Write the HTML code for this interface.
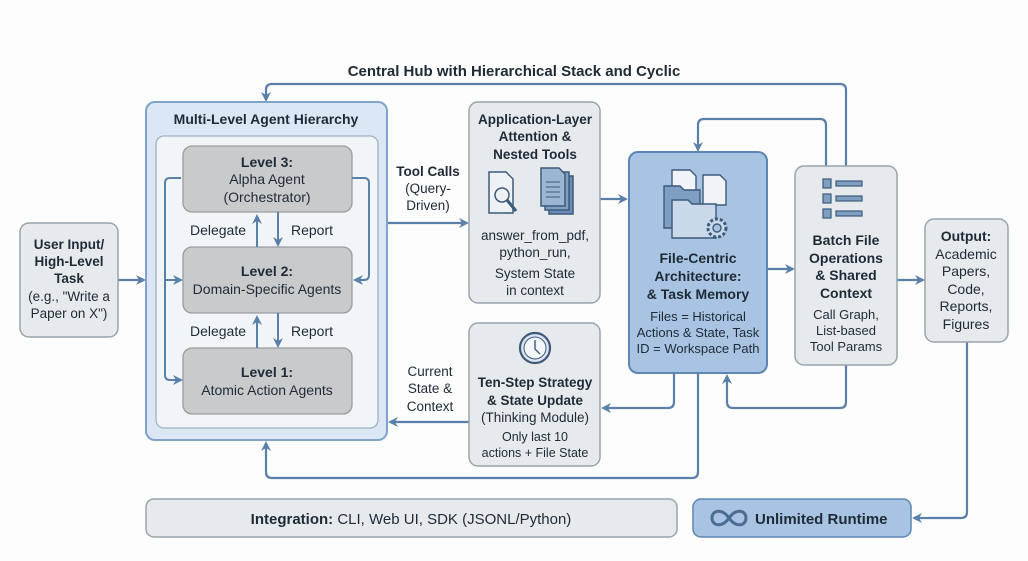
<!DOCTYPE html>
<html><head><meta charset="utf-8"><style>
html,body{margin:0;padding:0;background:#fdfdfd;}
svg{display:block;font-family:"Liberation Sans",Arial,sans-serif;}
.b{font-weight:bold;}
</style></head><body>
<svg width="1028" height="561" viewBox="0 0 1028 561" xmlns="http://www.w3.org/2000/svg">
<defs>
<marker id="a" markerWidth="10" markerHeight="10" refX="8" refY="5" orient="auto" markerUnits="userSpaceOnUse"><path d="M0,0 L10,5 L0,10 L3,5 z" fill="#5a7fa8"/></marker>
</defs>
<rect width="1028" height="561" fill="#fdfdfd"/>
<g fill="none" stroke="#5a7fa8" stroke-width="2.2">
<!-- top cycle -->
<path d="M846,166 V90 Q846,84 840,84 H272 Q266,84 266,90 V100" marker-end="url(#a)"/>
<!-- loop above file-centric -->
<path d="M826,166 V125 Q826,119 820,119 H704 Q698,119 698,125 V150" marker-end="url(#a)"/>
<!-- batch bottom feedback -->
<path d="M846,365 V402 Q846,408 840,408 H733 Q727,408 727,402 V376" marker-end="url(#a)"/>
<!-- file to ten-step -->
<path d="M674,373 V402 Q674,408 668,408 H603" marker-end="url(#a)"/>
<!-- bottom long line -->
<path d="M698,373 V472 Q698,478 692,478 H272 Q266,478 266,472 V443" marker-end="url(#a)"/>
<!-- output to runtime -->
<path d="M967,342 V512 Q967,518 961,518 H914" marker-end="url(#a)"/>
<path d="M600,199 H626" marker-end="url(#a)"/>
<path d="M767,269 H793" marker-end="url(#a)"/>
<path d="M897,280 H923" marker-end="url(#a)"/>
<path d="M387,223 H467" marker-end="url(#a)"/>
<path d="M469,422 H390" marker-end="url(#a)"/>
<path d="M118,280 H144" marker-end="url(#a)"/>
</g>
<!-- title -->
<text x="514" y="76" text-anchor="middle" class="b" font-size="15" fill="#1e2a36">Central Hub with Hierarchical Stack and Cyclic</text>
<!-- user input -->
<rect x="20" y="223" width="98" height="114" rx="9" fill="#e7eaed" stroke="#9aa3ad" stroke-width="1.5"/>
<g font-size="13.5" text-anchor="middle" fill="#1e2a36">
<text x="69" y="249" class="b">User Input/</text>
<text x="69" y="266" class="b">High-Level</text>
<text x="69" y="283" class="b">Task</text>
<text x="69" y="301">(e.g., "Write a</text>
<text x="69" y="318">Paper on X")</text>
</g>
<!-- hierarchy -->
<rect x="146" y="102" width="241" height="338" rx="9" fill="#dbe7f4" stroke="#7fa3c9" stroke-width="2"/>
<text x="266" y="124" text-anchor="middle" class="b" font-size="14" fill="#1e2a36">Multi-Level Agent Hierarchy</text>
<rect x="156" y="136" width="222" height="292" rx="8" fill="#f2f5f8" stroke="#9fb0c2" stroke-width="1.3"/>
<g fill="#c9cacb" stroke="#9a9c9f" stroke-width="1.3">
<rect x="183" y="146" width="169" height="66" rx="9"/>
<rect x="183" y="247" width="169" height="66" rx="9"/>
<rect x="183" y="348" width="169" height="66" rx="9"/>
</g>
<g font-size="14" text-anchor="middle" fill="#1e2a36">
<text x="267" y="167" class="b">Level 3:</text>
<text x="267" y="184">Alpha Agent</text>
<text x="267" y="202">(Orchestrator)</text>
<text x="267" y="276" class="b">Level 2:</text>
<text x="267" y="294">Domain-Specific Agents</text>
<text x="267" y="377" class="b">Level 1:</text>
<text x="267" y="395">Atomic Action Agents</text>
<text x="218" y="235">Delegate</text>
<text x="312" y="235">Report</text>
<text x="218" y="336">Delegate</text>
<text x="312" y="336">Report</text>
</g>
<g fill="none" stroke="#5a7fa8" stroke-width="2">
<path d="M257,247 V216" marker-end="url(#a)"/>
<path d="M278,212 V245" marker-end="url(#a)"/>
<path d="M257,348 V317" marker-end="url(#a)"/>
<path d="M278,313 V346" marker-end="url(#a)"/>
<path d="M181,178 H170 Q165,178 165,183 V375 Q165,380 170,380 H181" marker-end="url(#a)"/>
<path d="M165,280 H181" marker-end="url(#a)"/>
<path d="M352,178 H364 Q369,178 369,183 V275 Q369,280 364,280 H355" marker-end="url(#a)"/>
</g>
<!-- connector labels -->
<g font-size="13.5" text-anchor="middle" fill="#1e2a36">
<text x="428" y="176" class="b">Tool Calls</text>
<text x="428" y="193">(Query-</text>
<text x="428" y="210">Driven)</text>
<text x="430" y="376">Current</text>
<text x="430" y="393">State &amp;</text>
<text x="430" y="411">Context</text>
</g>
<!-- app layer -->
<rect x="469" y="102" width="131" height="201" rx="9" fill="#e7eaed" stroke="#9aa3ad" stroke-width="1.5"/>
<g font-size="13.5" text-anchor="middle" fill="#1e2a36">
<text x="535" y="124" class="b">Application-Layer</text>
<text x="535" y="141" class="b">Attention &amp;</text>
<text x="535" y="159" class="b">Nested Tools</text>
<text x="535" y="240">answer_from_pdf,</text>
<text x="535" y="257">python_run,</text>
<text x="535" y="278">System State</text>
<text x="535" y="295">in context</text>
</g>
<g stroke="#3d5a7a" stroke-width="1.5">
<path d="M489,172 H506 L513,179 V213 H489 Z" fill="#eef2f6"/>
<circle cx="502" cy="195" r="7" fill="#eef2f6"/>
<path d="M507,200 L516,211" stroke-width="3"/>
<rect x="549" y="176" width="24" height="38" fill="#6b8db3"/>
<rect x="545" y="172" width="24" height="38" fill="#7f9fc2"/>
<path d="M541,168 H559 L565,174 V206 H541 Z" fill="#9bb6d3"/>
<path d="M546,182 H560 M546,187 H560 M546,192 H560 M546,197 H560" stroke-width="1"/>
</g>
<!-- ten-step -->
<rect x="469" y="323" width="131" height="143" rx="9" fill="#e7eaed" stroke="#9aa3ad" stroke-width="1.5"/>
<circle cx="535" cy="348" r="15" fill="#dde6f0" stroke="#3d5a7a" stroke-width="2.2"/>
<circle cx="535" cy="348" r="11" fill="#f4f7fa" stroke="#3d5a7a" stroke-width="1"/>
<path d="M535,340 V349 L540,354" fill="none" stroke="#3d5a7a" stroke-width="1.4"/>
<g font-size="13.5" text-anchor="middle" fill="#1e2a36">
<text x="535" y="387" class="b">Ten-Step Strategy</text>
<text x="535" y="405" class="b">&amp; State Update</text>
<text x="535" y="422">(Thinking Module)</text>
<text x="535" y="441" font-size="12.5">Only last 10</text>
<text x="535" y="457" font-size="12.5">actions + File State</text>
</g>
<!-- file-centric -->
<rect x="629" y="152" width="138" height="221" rx="9" fill="#a9c4e2" stroke="#5b86b5" stroke-width="2"/>
<g stroke="#3d5a7a" stroke-width="1.4">
<path d="M672,170 H690 L696,176 V200 H672 Z" fill="#f0f4f8"/>
<path d="M703,175 H720 L726,181 V205 H703 Z" fill="#f0f4f8"/>
<path d="M664,186 H680 L684,190 H700 V228 H664 Z" fill="#7f9fc2"/>
<path d="M672,200 H688 L692,204 H716 V238 H672 Z" fill="#c9d9ea"/>
<circle cx="717" cy="228" r="9" fill="#c9d9ea" stroke-dasharray="3 2" stroke-width="3"/>
<circle cx="717" cy="228" r="4" fill="#a9c4e2"/>
</g>
<g font-size="14" text-anchor="middle" fill="#1e2a36">
<text x="698" y="263" class="b">File-Centric</text>
<text x="698" y="281" class="b">Architecture:</text>
<text x="698" y="299" class="b">&amp; Task Memory</text>
<text x="698" y="321" font-size="13">Files = Historical</text>
<text x="698" y="337" font-size="13">Actions &amp; State, Task</text>
<text x="698" y="353" font-size="13">ID = Workspace Path</text>
</g>
<!-- batch -->
<rect x="795" y="166" width="102" height="199" rx="9" fill="#e7eaed" stroke="#9aa3ad" stroke-width="1.5"/>
<g fill="#7f9fc2" stroke="#3d5a7a" stroke-width="1.2">
<rect x="823" y="179" width="8" height="9"/><rect x="836" y="181" width="26" height="5"/>
<rect x="823" y="194" width="8" height="9"/><rect x="836" y="196" width="26" height="5"/>
<rect x="823" y="209" width="8" height="9"/><rect x="836" y="211" width="26" height="5"/>
</g>
<g font-size="14" text-anchor="middle" fill="#1e2a36">
<text x="846" y="245" class="b">Batch File</text>
<text x="846" y="263" class="b">Operations</text>
<text x="846" y="280" class="b">&amp; Shared</text>
<text x="846" y="298" class="b">Context</text>
<text x="846" y="319" font-size="13">Call Graph,</text>
<text x="846" y="335" font-size="13">List-based</text>
<text x="846" y="351" font-size="13">Tool Params</text>
</g>
<!-- output -->
<rect x="925" y="219" width="83" height="123" rx="9" fill="#e7eaed" stroke="#9aa3ad" stroke-width="1.5"/>
<g font-size="14" text-anchor="middle" fill="#1e2a36">
<text x="966" y="241" class="b">Output:</text>
<text x="966" y="259">Academic</text>
<text x="966" y="276">Papers,</text>
<text x="966" y="294">Code,</text>
<text x="966" y="311">Reports,</text>
<text x="966" y="329">Figures</text>
</g>
<!-- bottom bars -->
<rect x="146" y="499" width="531" height="38" rx="8" fill="#e7eaed" stroke="#9aa3ad" stroke-width="1.5"/>
<text x="411" y="524" text-anchor="middle" font-size="15" fill="#1e2a36"><tspan class="b">Integration:</tspan> CLI, Web UI, SDK (JSONL/Python)</text>
<rect x="693" y="499" width="218" height="38" rx="8" fill="#a9c4e2" stroke="#5b86b5" stroke-width="1.5"/>
<path d="M729,518 C722,508 712,510 712,518 C712,526 722,528 729,518 C736,508 746,510 746,518 C746,526 736,528 729,518 Z" fill="none" stroke="#4a6d94" stroke-width="3"/>
<text x="755" y="524" class="b" font-size="15" fill="#1e2a36">Unlimited Runtime</text>
</svg>
</body></html>
